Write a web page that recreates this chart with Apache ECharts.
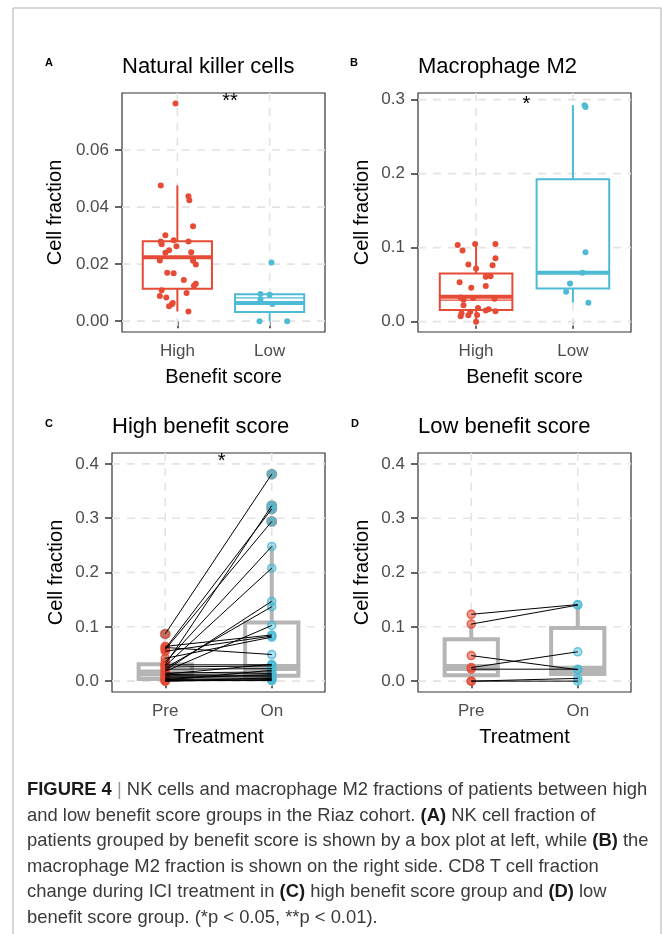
<!DOCTYPE html>
<html><head><meta charset="utf-8">
<script src="https://cdn.jsdelivr.net/npm/echarts@6/dist/echarts.min.js"></script>
<style>
html,body{margin:0;padding:0;background:#fff;}
#chart{position:absolute;left:0;top:0;width:663px;height:934px;}
#cap{position:absolute;left:27px;top:776px;font-family:'Liberation Sans',Arial,sans-serif;font-size:18.4px;line-height:25.6px;color:#3a3a3a;white-space:nowrap;}
#cap b{color:#1a1a1a;}
#cap .sep{color:#999;}
</style></head><body>
<div id="chart"></div>
<div id="cap">
<div><b>FIGURE 4</b> <span class="sep">|</span> NK cells and macrophage M2 fractions of patients between high</div>
<div>and low benefit score groups in the Riaz cohort. <b>(A)</b> NK cell fraction of</div>
<div>patients grouped by benefit score is shown by a box plot at left, while <b>(B)</b> the</div>
<div>macrophage M2 fraction is shown on the right side. CD8 T cell fraction</div>
<div>change during ICI treatment in <b>(C)</b> high benefit score group and <b>(D)</b> low</div>
<div>benefit score group. (*p &lt; 0.05, **p &lt; 0.01).</div>
</div>
<script>
// ---------------- data ----------------
const groupsAB = ['High', 'Low'];
const groupsCD = ['Pre', 'On'];
const ticksA = [0, 0.02, 0.04, 0.06];
const ticksB = [0, 0.1, 0.2, 0.3];
const ticksCD = [0, 0.1, 0.2, 0.3, 0.4];

// Panel A: Natural killer cells
const nkHigh = [0.0763, 0.0476, 0.0438, 0.0424, 0.0333, 0.0301, 0.0279, 0.0270, 0.0284, 0.0263,
  0.0279, 0.0249, 0.0240, 0.0242, 0.0213, 0.0212, 0.0199, 0.0170, 0.0168, 0.0144,
  0.0131, 0.0124, 0.0108, 0.0088, 0.0083, 0.0099, 0.0064, 0.0059, 0.0052, 0.0034];
const nkHighJitter = [-0.02, -0.18, 0.12, 0.13, 0.17, -0.13, -0.18, -0.17, -0.04, -0.01,
  0.12, -0.09, -0.13, 0.15, -0.19, 0.17, 0.2, -0.11, -0.04, 0.07,
  0.2, 0.18, -0.17, -0.19, -0.12, 0.1, -0.05, -0.06, -0.09, 0.12];
const nkLow = [0.0206, 0.0095, 0.0093, 0.0075, 0.0060, 0.0, 0.0];
const nkLowJitter = [0.02, -0.1, 0.0, -0.1, 0.03, -0.11, 0.19];
const nkHighBox = [0.0034, 0.01135, 0.0224, 0.0280, 0.0476];
const nkLowBox = [0.0, 0.0032, 0.0064, 0.0094, 0.0095];
const nkLowInner = 0.0082;
const sigA = '**';

// Panel B: Macrophage M2
const m2High = [0.1036, 0.105, 0.105, 0.096, 0.0771, 0.0856, 0.0762, 0.0717, 0.0533, 0.0606,
  0.0614, 0.0457, 0.048, 0.0327, 0.0296, 0.032, 0.031, 0.022, 0.0183, 0.0166,
  0.0139, 0.015, 0.0134, 0.0112, 0.0072, 0.0085, 0.0089, 0.0];
const m2HighJitter = [-0.19, -0.01, 0.2, -0.14, -0.08, 0.2, 0.17, 0.0, -0.17, 0.1,
  0.15, -0.05, 0.1, -0.16, -0.13, -0.03, 0.19, -0.13, 0.02, 0.13,
  0.2, 0.1, -0.06, -0.15, -0.16, -0.08, 0.01, 0.0];
const m2Low = [0.2925, 0.290, 0.0937, 0.066, 0.0516, 0.0404, 0.0256];
const m2LowJitter = [0.12, 0.13, 0.13, 0.1, -0.03, -0.07, 0.16];
const m2HighBox = [0.0, 0.0156, 0.0337, 0.065, 0.105];
const m2LowBox = [0.0256, 0.0448, 0.066, 0.1925, 0.2925];
const m2HighInner = 0.029;
const sigB = '*';

// Panel C: High benefit score, CD8 T cell fraction, paired Pre -> On
const cPre = [0.087, 0.060, 0.058, 0.064, 0.062, 0.055, 0.042, 0.030, 0.035, 0.028,
  0.024, 0.020, 0.018, 0.030, 0.026, 0.022, 0.015, 0.012, 0.010, 0.008,
  0.006, 0.005, 0.003, 0.002, 0.001, 0.0, 0.0, 0.013];
const cOn = [0.381, 0.317, 0.294, 0.085, 0.049, 0.083, 0.081, 0.323, 0.248, 0.208,
  0.137, 0.147, 0.1025, 0.030, 0.028, 0.023, 0.017, 0.014, 0.010, 0.008,
  0.005, 0.012, 0.002, 0.020, 0.001, 0.003, 0.006, 0.031];
const cPreBox = [0.0, 0.004, 0.015, 0.031, 0.064];
const cOnBox = [0.0, 0.010, 0.025, 0.108, 0.249];
const cPreOutliers = [0.087];
const cOnOutliers = [0.381, 0.323, 0.317, 0.294];
const sigC = '*';

// Panel D: Low benefit score
const dPre = [0.123, 0.105, 0.047, 0.025, 0.022, 0.0, 0.0];
const dOn = [0.141, 0.140, 0.021, 0.054, 0.022, 0.005, 0.0];
const dPreBox = [0.0, 0.011, 0.025, 0.077, 0.105];
const dOnBox = [0.0, 0.013, 0.022, 0.098, 0.141];

// ---------------- styling ----------------
const FONT = "'Liberation Sans', Arial, Helvetica, sans-serif";
const RED = '#E64B35', BLUE = '#4DBBD5';
const GRID_COLOR = '#e4e4e4';

const panels = [
  {grid: {left: 122, top: 93, width: 203, height: 239}, xr: [0.4, 2.6], yr: [-0.0038, 0.080], ticks: ticksA, dec: 2, cats: groupsAB, xname: 'Benefit score', yGap: 57},
  {grid: {left: 418, top: 93, width: 213, height: 239}, xr: [0.4, 2.6], yr: [-0.014, 0.309], ticks: ticksB, dec: 1, cats: groupsAB, xname: 'Benefit score', yGap: 46},
  {grid: {left: 112, top: 453, width: 213, height: 239}, xr: [0.5, 2.5], yr: [-0.02, 0.42], ticks: ticksCD, dec: 1, cats: groupsCD, xname: 'Treatment', yGap: 46},
  {grid: {left: 418, top: 453, width: 213, height: 239}, xr: [0.5, 2.5], yr: [-0.02, 0.42], ticks: ticksCD, dec: 1, cats: groupsCD, xname: 'Treatment', yGap: 46}
];

const grids = [], xAxes = [], yAxes = [], series = [];

function gridLineSeries(gi, ticks) {
  series.push({
    type: 'custom', xAxisIndex: gi, yAxisIndex: gi, silent: true, z: 1,
    data: ticks.map(t => [1, t]),
    renderItem(params, api) {
      const cs = params.coordSys;
      const y = api.coord([api.value(0), api.value(1)])[1];
      return {type: 'line', shape: {x1: cs.x, y1: y, x2: cs.x + cs.width, y2: y},
        style: {stroke: GRID_COLOR, lineWidth: 1.6, lineDash: [8, 7]}};
    }
  });
  series.push({
    type: 'custom', xAxisIndex: gi, yAxisIndex: gi, silent: true, z: 1,
    data: [[1, 0], [2, 0]],
    renderItem(params, api) {
      const cs = params.coordSys;
      const x = api.coord([api.value(0), api.value(1)])[0];
      return {type: 'line', shape: {x1: x, y1: cs.y, x2: x, y2: cs.y + cs.height},
        style: {stroke: GRID_COLOR, lineWidth: 1.6, lineDash: [8, 7]}};
    }
  });
}

function boxSeries(gi, items, colors, lw, medLw, halfW, z) {
  series.push({
    type: 'custom', xAxisIndex: gi, yAxisIndex: gi, silent: true, z: z || 2,
    data: items,
    renderItem(params, api) {
      const x = api.value(0);
      const c = colors[params.dataIndex];
      const lo = api.coord([x, api.value(1)]), q1 = api.coord([x, api.value(2)]),
        med = api.coord([x, api.value(3)]), q3 = api.coord([x, api.value(4)]),
        hi = api.coord([x, api.value(5)]);
      const xl = api.coord([x - halfW, 0])[0], xr = api.coord([x + halfW, 0])[0];
      const st = {stroke: c, lineWidth: lw};
      return {type: 'group', children: [
        {type: 'line', shape: {x1: lo[0], y1: lo[1], x2: q1[0], y2: q1[1]}, style: st},
        {type: 'line', shape: {x1: q3[0], y1: q3[1], x2: hi[0], y2: hi[1]}, style: st},
        {type: 'rect', shape: {x: xl, y: q3[1], width: xr - xl, height: q1[1] - q3[1]},
          style: {fill: '#fff', stroke: c, lineWidth: lw}},
        {type: 'line', shape: {x1: xl, y1: med[1], x2: xr, y2: med[1]}, style: {stroke: c, lineWidth: medLw}}
      ]};
    }
  });
}

function innerLineSeries(gi, x, v, color, halfW) {
  series.push({
    type: 'custom', xAxisIndex: gi, yAxisIndex: gi, silent: true, z: 3,
    data: [[x, v]],
    renderItem(params, api) {
      const p = api.coord([api.value(0), api.value(1)]);
      const xl = api.coord([api.value(0) - halfW, 0])[0], xr = api.coord([api.value(0) + halfW, 0])[0];
      return {type: 'line', shape: {x1: xl, y1: p[1], x2: xr, y2: p[1]}, style: {stroke: color, lineWidth: 1.3}};
    }
  });
}

function jitterSeries(gi, x0, vals, jit, color) {
  series.push({
    type: 'scatter', xAxisIndex: gi, yAxisIndex: gi, silent: true, z: 4,
    symbolSize: 6, itemStyle: {color: color, opacity: 1},
    data: vals.map((v, i) => [x0 + jit[i], v])
  });
}

function sigSeries(gi, x, y, text) {
  series.push({
    type: 'custom', xAxisIndex: gi, yAxisIndex: gi, silent: true, z: 6,
    data: [[x, y]],
    renderItem(params, api) {
      const p = api.coord([api.value(0), api.value(1)]);
      return {type: 'text', x: p[0], y: p[1],
        style: {text: text, fontSize: 20, fontFamily: FONT, fill: '#000', align: 'center', verticalAlign: 'middle'}};
    }
  });
}

function pairSeries(gi, pre, on) {
  series.push({
    type: 'custom', xAxisIndex: gi, yAxisIndex: gi, silent: true, z: 5,
    data: pre.map((v, i) => [v, on[i]]),
    renderItem(params, api) {
      const a = api.coord([1, api.value(0)]), b = api.coord([2, api.value(1)]);
      return {type: 'line', shape: {x1: a[0], y1: a[1], x2: b[0], y2: b[1]}, style: {stroke: '#000', lineWidth: 1}};
    }
  });
}

function pointSeries(gi, x, vals, fill, border, size, z) {
  series.push({
    type: 'scatter', xAxisIndex: gi, yAxisIndex: gi, silent: true, z: z,
    symbolSize: size, itemStyle: {color: fill, borderColor: border, borderWidth: border ? 1.5 : 0, opacity: 1},
    data: vals.map(v => [x, v])
  });
}

panels.forEach((p, gi) => {
  grids.push(Object.assign({show: true, borderColor: '#333', borderWidth: 1.2, backgroundColor: '#fff', containLabel: false}, p.grid));
  xAxes.push({
    type: 'value', gridIndex: gi, min: p.xr[0], max: p.xr[1],
    axisLine: {show: false}, splitLine: {show: false},
    axisTick: {show: true, customValues: [1, 2], length: 7, lineStyle: {color: '#333', width: 1.5}},
    axisLabel: {customValues: [1, 2], formatter: v => p.cats[Math.round(v) - 1], color: '#4d4d4d', fontSize: 17, fontFamily: FONT, margin: 11},
    name: p.xname, nameLocation: 'middle', nameGap: 35,
    nameTextStyle: {color: '#000', fontSize: 20, fontFamily: FONT}
  });
  yAxes.push({
    type: 'value', gridIndex: gi, min: p.yr[0], max: p.yr[1],
    axisLine: {show: false}, splitLine: {show: false},
    axisTick: {show: true, customValues: p.ticks, length: 7, lineStyle: {color: '#333', width: 1.5}},
    axisLabel: {customValues: p.ticks, formatter: v => v.toFixed(p.dec), color: '#4d4d4d', fontSize: 17, fontFamily: FONT, margin: 13},
    name: 'Cell fraction', nameLocation: 'middle', nameGap: p.yGap,
    nameTextStyle: {color: '#000', fontSize: 20, fontFamily: FONT}
  });
  gridLineSeries(gi, p.ticks);
});

// Panel A
boxSeries(0, [[1, ...nkHighBox], [2, ...nkLowBox]], [RED, BLUE], 2, 4, 0.375);
innerLineSeries(0, 2, nkLowInner, BLUE, 0.375);
jitterSeries(0, 1, nkHigh, nkHighJitter, RED);
jitterSeries(0, 2, nkLow, nkLowJitter, BLUE);
sigSeries(0, 1.57, 0.0770, sigA);

// Panel B
boxSeries(1, [[1, ...m2HighBox], [2, ...m2LowBox]], [RED, BLUE], 2, 4, 0.375);
innerLineSeries(1, 1, m2HighInner, RED, 0.375);
jitterSeries(1, 1, m2High, m2HighJitter, RED);
jitterSeries(1, 2, m2Low, m2LowJitter, BLUE);
sigSeries(1, 1.52, 0.294, sigB);

// Panel C
const GRAY = '#b5b5b5';
boxSeries(2, [[1, ...cPreBox], [2, ...cOnBox]], [GRAY, GRAY], 4, 7, 0.25);
pointSeries(2, 1, cPreOutliers, '#9a9a9a', null, 11, 3);
pointSeries(2, 2, cOnOutliers, '#9a9a9a', null, 11, 3);
pointSeries(2, 1, cPre, 'rgba(230,75,53,0.55)', 'rgba(230,75,53,0.85)', 8, 4);
pointSeries(2, 2, cOn, 'rgba(77,187,213,0.45)', 'rgba(77,187,213,0.85)', 8, 4);
pairSeries(2, cPre, cOn);
sigSeries(2, 1.53, 0.404, sigC);

// Panel D
boxSeries(3, [[1, ...dPreBox], [2, ...dOnBox]], [GRAY, GRAY], 4, 7, 0.25);
pointSeries(3, 1, dPre, 'rgba(230,75,53,0.55)', 'rgba(230,75,53,0.85)', 8, 4);
pointSeries(3, 2, dOn, 'rgba(77,187,213,0.45)', 'rgba(77,187,213,0.85)', 8, 4);
pairSeries(3, dPre, dOn);

const titleStyle = {fontSize: 22, fontWeight: 'normal', color: '#000', fontFamily: FONT};
const letterStyle = {fontSize: 11, fontWeight: 'bold', color: '#000', fontFamily: FONT};

const option = {
  animation: false,
  backgroundColor: '#fff',
  title: [
    {text: 'Natural killer cells', left: 122, top: 56, padding: 0, textStyle: titleStyle},
    {text: 'Macrophage M2', left: 418, top: 56, padding: 0, textStyle: titleStyle},
    {text: 'High benefit score', left: 112, top: 416, padding: 0, textStyle: titleStyle},
    {text: 'Low benefit score', left: 418, top: 416, padding: 0, textStyle: titleStyle},
    {text: 'A', left: 45, top: 57, padding: 0, textStyle: letterStyle},
    {text: 'B', left: 350, top: 57, padding: 0, textStyle: letterStyle},
    {text: 'C', left: 45, top: 418, padding: 0, textStyle: letterStyle},
    {text: 'D', left: 351, top: 418, padding: 0, textStyle: letterStyle}
  ],
  graphic: [
    {type: 'line', shape: {x1: 13, y1: 8, x2: 661, y2: 8}, style: {stroke: '#c8c8c8', lineWidth: 1.5}},
    {type: 'line', shape: {x1: 13, y1: 8, x2: 13, y2: 934}, style: {stroke: '#c8c8c8', lineWidth: 1.5}},
    {type: 'line', shape: {x1: 661, y1: 8, x2: 661, y2: 934}, style: {stroke: '#c8c8c8', lineWidth: 1.5}}
  ],
  grid: grids, xAxis: xAxes, yAxis: yAxes, series: series
};

const chart = echarts.init(document.getElementById('chart'), null, {renderer: 'canvas'});
chart.setOption(option);
</script>
</body></html>
